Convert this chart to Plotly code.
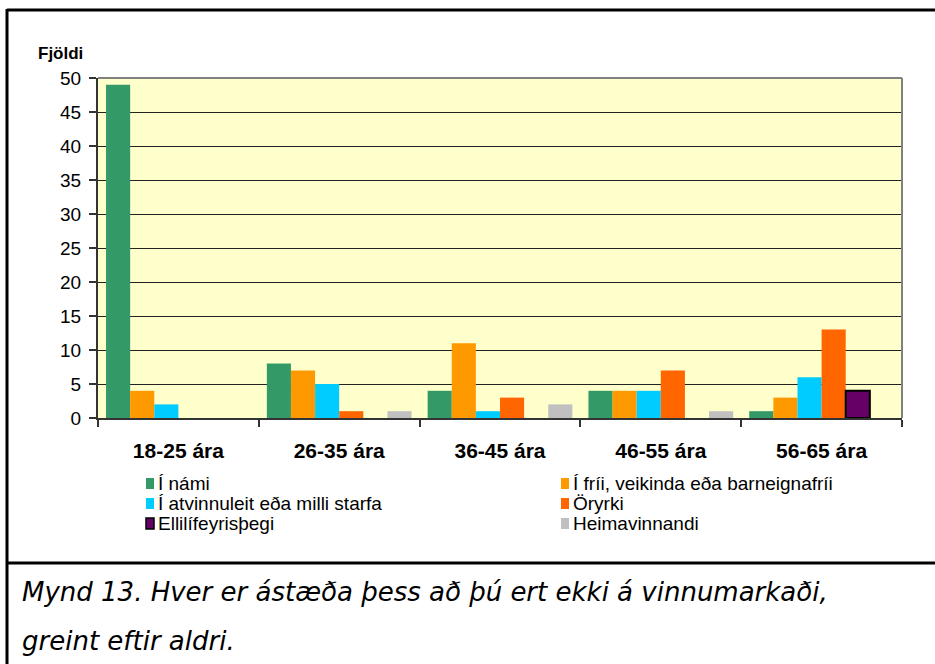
import plotly.graph_objects as go

categories = ["18-25 ára", "26-35 ára", "36-45 ára", "46-55 ára", "56-65 ára"]
series_names = [
    "Í námi",
    "Í fríi, veikinda eða barneignafríi",
    "Í atvinnuleit eða milli starfa",
    "Öryrki",
    "Ellilífeyrisþegi",
    "Heimavinnandi",
]
i_nami = [49, 8, 4, 4, 1]
i_frii = [4, 7, 11, 4, 3]
i_atvinnuleit = [2, 5, 1, 4, 6]
oryrki = [0, 1, 3, 7, 13]
ellilifeyris = [0, 0, 0, 0, 4]
heimavinnandi = [0, 1, 2, 1, 0]
y_ticks = [0, 5, 10, 15, 20, 25, 30, 35, 40, 45, 50]
y_title = "Fjöldi"
caption_lines = [
    "Mynd 13. Hver er ástæða þess að þú ert ekki á vinnumarkaði,",
    "greint eftir aldri.",
]

series_values = [i_nami, i_frii, i_atvinnuleit, oryrki, ellilifeyris, heimavinnandi]
colors = ["#339966", "#FF9900", "#00CCFF", "#FF6600", "#660066", "#C0C0C0"]
outlined = [False, False, False, False, True, False]

W, H = 935, 664
L, R, T, B = 98, 33, 78, 246
PW, PH = W - L - R, H - T - B


def px_x(px):
    return (px - L) / PW


def px_y(py):
    return (H - B - py) / PH


fig = go.Figure()
for name, vals, c, ol in zip(series_names, series_values, colors, outlined):
    widths = [2 if (ol and v > 0) else 0 for v in vals]
    fig.add_trace(go.Bar(
        x=categories, y=vals, name=name,
        marker=dict(color=c, line=dict(color="black", width=widths)),
        showlegend=False,
    ))

shapes = [
    # plot area top/right border (grey)
    dict(type="line", xref="paper", yref="paper", x0=0, x1=1, y0=1, y1=1,
         line=dict(color="#808080", width=2)),
    dict(type="line", xref="paper", yref="paper", x0=1, x1=1, y0=0, y1=1,
         line=dict(color="#808080", width=2)),
    # outer frame
    dict(type="line", xref="paper", yref="paper", x0=px_x(7), x1=px_x(945),
         y0=px_y(10), y1=px_y(10), line=dict(color="black", width=3)),
    dict(type="line", xref="paper", yref="paper", x0=px_x(7), x1=px_x(7),
         y0=px_y(9), y1=px_y(680), line=dict(color="black", width=3)),
    dict(type="line", xref="paper", yref="paper", x0=px_x(7), x1=px_x(945),
         y0=px_y(563), y1=px_y(563), line=dict(color="black", width=3)),
]

annotations = [
    dict(text="<b>" + y_title + "</b>", xref="paper", yref="paper",
         x=px_x(60), y=px_y(53), showarrow=False, xanchor="center", yanchor="middle",
         font=dict(family="Liberation Sans, Arial", size=17, color="black")),
    dict(text="<i>" + caption_lines[0] + "</i>",
         xref="paper", yref="paper", x=px_x(20), y=px_y(592),
         showarrow=False, xanchor="left", yanchor="middle",
         font=dict(family="DejaVu Sans", size=26, color="black")),
    dict(text="<i>" + caption_lines[1] + "</i>",
         xref="paper", yref="paper", x=px_x(20), y=px_y(641),
         showarrow=False, xanchor="left", yanchor="middle",
         font=dict(family="DejaVu Sans", size=26, color="black")),
]

# legend in two columns (row-major), built from the series
leg_cols_x = [146, 561]
leg_rows_y = [483, 503, 523]
for i, (name, c, ol) in enumerate(zip(series_names, colors, outlined)):
    col, row = i % 2, i // 2
    sx, sy = leg_cols_x[col], leg_rows_y[row]
    shapes.append(dict(
        type="rect", xref="paper", yref="paper",
        x0=px_x(sx), x1=px_x(sx + 8), y0=px_y(sy - 5), y1=px_y(sy + 6),
        fillcolor=c, line=dict(color="black" if ol else c, width=1.5 if ol else 0),
    ))
    annotations.append(dict(
        text=name, xref="paper", yref="paper",
        x=px_x(sx + 10), y=px_y(sy), showarrow=False,
        xanchor="left", yanchor="middle",
        font=dict(family="Liberation Sans, Arial", size=19, color="black"),
    ))

fig.update_layout(
    width=W, height=H,
    margin=dict(l=L, r=R, t=T, b=B, pad=0),
    paper_bgcolor="white",
    plot_bgcolor="#FFFFCC",
    barmode="group",
    bargap=0.1,
    bargroupgap=0,
    font=dict(family="Liberation Sans, Arial", color="black"),
    shapes=shapes,
    annotations=annotations,
    showlegend=False,
)
fig.update_xaxes(
    type="category",
    tickson="boundaries",
    ticks="outside", ticklen=7, tickcolor="#333333", tickwidth=2,
    showline=True, linecolor="#333333", linewidth=2,
    showgrid=False,
    tickfont=dict(family="Liberation Sans, Arial", size=21, color="black", weight="bold"),
    ticklabelstandoff=13,
)
fig.update_yaxes(
    range=[0, 50],
    tickvals=y_ticks,
    ticks="outside", ticklen=7, tickcolor="#333333", tickwidth=2,
    showline=True, linecolor="#333333", linewidth=2,
    showgrid=True, gridcolor="#222222", gridwidth=1,
    zeroline=False,
    tickfont=dict(family="Liberation Sans, Arial", size=19, color="black"),
    ticklabelstandoff=4,
)

fig.write_html(
    "out.html",
    config={"displayModeBar": False},
    post_script="document.body.style.margin='0';document.body.style.overflow='hidden';",
)
